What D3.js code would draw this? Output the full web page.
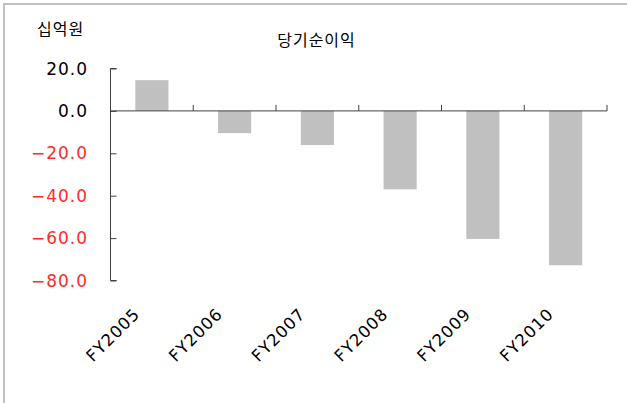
<!DOCTYPE html>
<html>
<head>
<meta charset="utf-8">
<script src="https://cdn.jsdelivr.net/npm/d3@7"></script>
<style>
  html, body { margin: 0; padding: 0; background: #fff; }
  svg { display: block; }
</style>
</head>
<body>
<svg id="chart" width="627" height="403"></svg>
<script>
// 당기순이익 (십억원), FY2005–FY2010
const categories = ["FY2005", "FY2006", "FY2007", "FY2008", "FY2009", "FY2010"];
const netIncome = [14.5, -10.5, -16.1, -37.0, -60.4, -72.8];
const yTicks = [20, 0, -20, -40, -60, -80];

const svg = d3.select("#chart");
const numFont = "'DejaVu Sans', sans-serif";
const krFont = "'Noto Sans CJK KR', sans-serif";

// outer frame (top and left edges)
svg.append("path")
  .attr("d", "M4,403 V4 H627")
  .attr("fill", "none")
  .attr("stroke", "#c0c0c0")
  .attr("stroke-width", 2);

const y = d3.scaleLinear().domain([-80, 20]).range([280.5, 68.5]);
const x = d3.scaleBand().domain(categories).range([110.5, 607]).paddingInner(0).paddingOuter(0);
const barW = x.bandwidth() * 0.4;

// bars
svg.append("g").selectAll("rect")
  .data(categories.map((c, i) => ({ c, v: netIncome[i] })))
  .join("rect")
  .attr("x", d => x(d.c) + (x.bandwidth() - barW) / 2)
  .attr("width", barW)
  .attr("y", d => y(Math.max(0, d.v)))
  .attr("height", d => Math.abs(y(d.v) - y(0)))
  .attr("fill", "#c0c0c0");

// value axis
const yAxis = d3.axisRight(y)
  .tickValues(yTicks)
  .tickSize(6)
  .tickFormat("");
const gy = svg.append("g").attr("transform", "translate(110.5,0)").call(yAxis);
gy.select(".domain").attr("stroke", "#404040").attr("d", `M6,${y(20)}H0V${y(-80)}H6`);
gy.selectAll(".tick line").attr("stroke", "#404040");

svg.append("g").selectAll("text")
  .data(yTicks)
  .join("text")
  .attr("x", 88)
  .attr("y", d => y(d))
  .attr("dy", "0.36em")
  .attr("text-anchor", "end")
  .attr("font-family", numFont)
  .attr("font-size", 17)
  .attr("letter-spacing", 1)
  .attr("fill", d => d < 0 ? "#ff2a2a" : "#000")
  .text(d => (d < 0 ? "\u2212" : "") + Math.abs(d).toFixed(1));

// category axis along zero
const gx = svg.append("g");
gx.append("line")
  .attr("x1", x.range()[0]).attr("x2", x.range()[1])
  .attr("y1", y(0)).attr("y2", y(0))
  .attr("stroke", "#404040");
gx.selectAll("line.tick")
  .data(categories)
  .join("line")
  .attr("class", "tick")
  .attr("x1", d => x(d) + x.bandwidth())
  .attr("x2", d => x(d) + x.bandwidth())
  .attr("y1", y(0))
  .attr("y2", y(0) - 6)
  .attr("stroke", "#404040");

// rotated category labels, ending just left of each band centre
svg.append("g").selectAll("text")
  .data(categories)
  .join("text")
  .attr("transform", d => `translate(${x(d) + x.bandwidth() / 2 - 11},315) rotate(-45)`)
  .attr("text-anchor", "end")
  .attr("font-family", numFont)
  .attr("font-size", 16.5)
  .attr("letter-spacing", 1)
  .attr("fill", "#000")
  .text(d => d);

// unit and title
svg.append("text")
  .attr("x", 37).attr("y", 35)
  .attr("font-family", krFont)
  .attr("font-size", 16)
  .attr("letter-spacing", 1)
  .attr("fill", "#000")
  .text("십억원");

svg.append("text")
  .attr("x", 316.5).attr("y", 46)
  .attr("text-anchor", "middle")
  .attr("font-family", krFont)
  .attr("font-size", 16)
  .attr("letter-spacing", 1)
  .attr("fill", "#000")
  .text("당기순이익");
</script>
</body>
</html>
